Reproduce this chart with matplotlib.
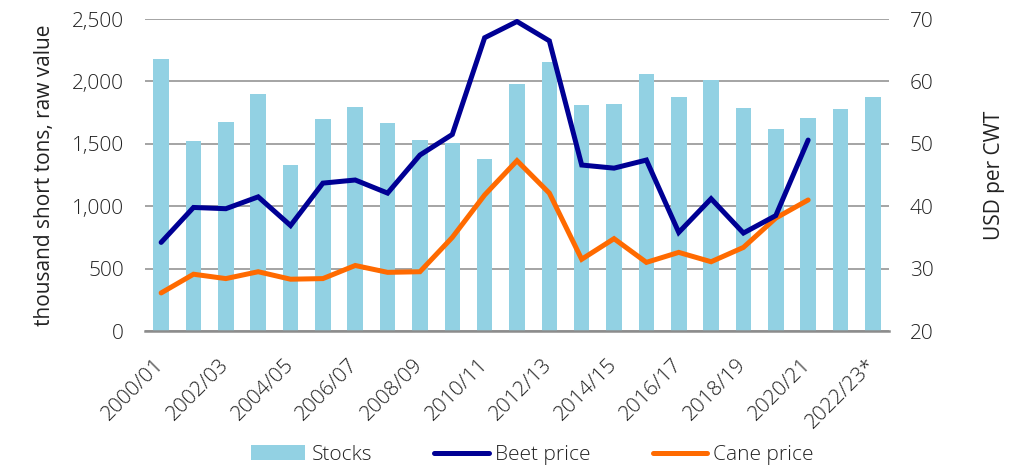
import matplotlib.pyplot as plt
import numpy as np
from matplotlib.lines import Line2D
from matplotlib.patches import Patch

plt.rcParams["font.family"] = ["Open Sans", "DejaVu Sans"]
plt.rcParams["font.weight"] = "light"

seasons = ["2000/01", "2001/02", "2002/03", "2003/04", "2004/05", "2005/06",
           "2006/07", "2007/08", "2008/09", "2009/10", "2010/11", "2011/12",
           "2012/13", "2013/14", "2014/15", "2015/16", "2016/17", "2017/18",
           "2018/19", "2019/20", "2020/21", "2021/22", "2022/23*"]

# thousand short tons, raw value
stocks = [2180, 1525, 1672, 1896, 1330, 1699, 1797, 1664, 1533, 1504, 1376,
          1979, 2155, 1811, 1816, 2057, 1875, 2009, 1784, 1619, 1707, 1779, 1875]

# USD per CWT (no data for last two seasons)
beet_price = [34.2, 39.8, 39.6, 41.5, 36.9, 43.7, 44.2, 42.1, 48.2, 51.5, 67.0,
              69.6, 66.5, 46.6, 46.1, 47.4, 35.8, 41.2, 35.7, 38.5, 50.6]
cane_price = [26.1, 29.1, 28.4, 29.5, 28.3, 28.4, 30.5, 29.4, 29.5, 35.0, 41.8,
              47.3, 42.1, 31.5, 34.8, 31.0, 32.6, 31.1, 33.4, 38.1, 41.0]

BAR_C = "#92d1e3"
BEET_C = "#000094"
CANE_C = "#ff6a00"
TXT_C = "#222222"
GRID_C = "#8c8c8c"

fig = plt.figure(figsize=(10.18, 4.67), dpi=100)
ax = fig.add_axes([0.1424, 0.2912, 0.7309, 0.6681])
ax2 = ax.twinx()

x = np.arange(len(seasons))
ax.bar(x, stocks, width=0.48, color=BAR_C, zorder=2)
ax.set_xlim(-0.5, len(seasons) - 0.5)
ax.set_ylim(0, 2500)
ax.set_yticks(np.arange(0, 2501, 500))
ax.set_yticklabels([f"{v:,}" for v in range(0, 2501, 500)])
ax.yaxis.grid(True, color=GRID_C, linewidth=1.1, zorder=0)
ax.set_axisbelow(True)

ax2.plot(x[:len(beet_price)], beet_price, color=BEET_C, linewidth=3.6,
         solid_capstyle="round", solid_joinstyle="miter", zorder=4)
ax2.plot(x[:len(cane_price)], cane_price, color=CANE_C, linewidth=3.6,
         solid_capstyle="round", solid_joinstyle="miter", zorder=3)
ax2.set_ylim(20, 70)
ax2.set_yticks(np.arange(20, 71, 10))

for a in (ax, ax2):
    for s in a.spines.values():
        s.set_visible(False)
    a.tick_params(axis="y", length=0, labelsize=15, colors=TXT_C, pad=15)
ax.spines["bottom"].set_visible(True)
ax.spines["bottom"].set_color(GRID_C)
ax.spines["bottom"].set_linewidth(1.8)

ax.set_xticks(x[::2])
ax.set_xticklabels(seasons[::2], rotation=45, ha="right", va="center",
                   rotation_mode="anchor")
ax.tick_params(axis="x", length=0, labelsize=15, colors=TXT_C, pad=22)

ax.set_ylabel("thousand short tons, raw value", fontsize=15, color=TXT_C,
              labelpad=12)
ax2.set_ylabel("USD per CWT", fontsize=15, color=TXT_C, labelpad=36)

handles = [
    Patch(facecolor=BAR_C, edgecolor="none", label="Stocks"),
    Line2D([0], [0], color=BEET_C, linewidth=3.6, solid_capstyle="round",
           label="Beet price"),
    Line2D([0], [0], color=CANE_C, linewidth=3.6, solid_capstyle="round",
           label="Cane price"),
]
leg = fig.legend(handles=handles, loc="lower center", ncol=3,
                 bbox_to_anchor=(0.523, -0.036), frameon=False, fontsize=15,
                 handlelength=2.6, handletextpad=0.3, columnspacing=3.0)
for t in leg.get_texts():
    t.set_color(TXT_C)

fig.savefig("out.png", dpi=100)
